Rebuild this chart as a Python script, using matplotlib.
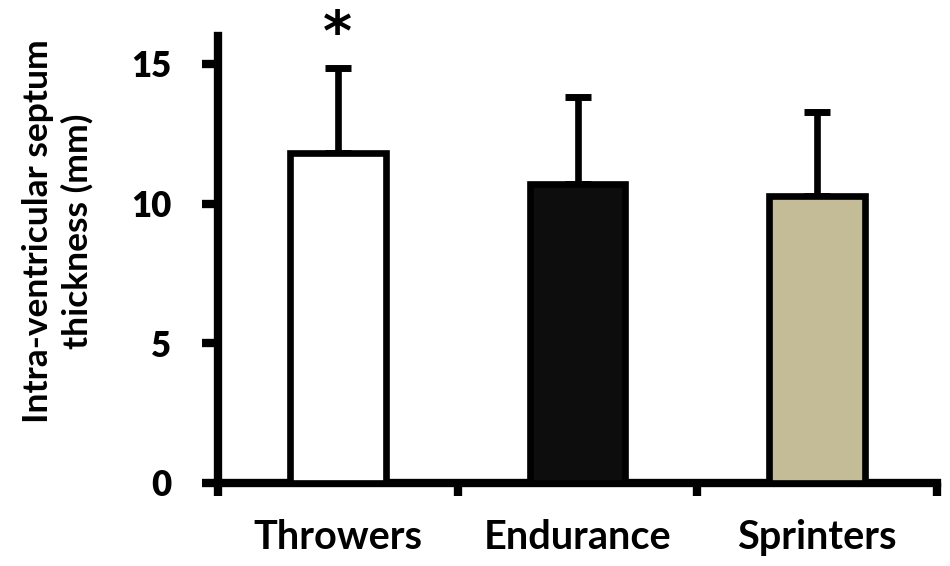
import matplotlib
matplotlib.use("Agg")
import matplotlib.pyplot as plt
import numpy as np

categories = ["Throwers", "Endurance", "Sprinters"]
means = [11.8, 10.7, 10.27]
errors = [3.07, 3.1, 3.02]
colors = ["#ffffff", "#0d0d0d", "#c4bb97"]
yticks = [0, 5, 10, 15]
significance = ["*", "", ""]

plt.rcParams['font.family'] = ['Lato', 'DejaVu Sans']
plt.rcParams['font.weight'] = 'bold'

fig = plt.figure(figsize=(9.5, 5.66), dpi=100)
ax = fig.add_axes([218/950, 83/566, 719/950, 447/566])

x = np.arange(len(categories))
ax.bar(x, means, width=0.4, color=colors, edgecolor="black", linewidth=4.8, zorder=3)
ax.errorbar(x, means, yerr=[np.zeros(len(errors)), errors], fmt="none", ecolor="black",
            elinewidth=4.8, capsize=9.5, capthick=5, zorder=2)

for xi, m, e, s in zip(x, means, errors, significance):
    if s:
        ax.annotate(s, xy=(xi, m + e), xytext=(0, 13), textcoords="offset points",
                    ha="center", va="baseline", fontsize=40, fontweight="bold",
                    family=["DejaVu Sans"], annotation_clip=False)

ax.set_xlim(-0.5, len(categories) - 0.5)
ax.set_ylim(0, 16)
ax.set_yticks(yticks)
ax.set_yticklabels([str(t) for t in yticks], fontsize=25, fontweight="heavy")
ax.set_xticks(np.arange(len(categories) + 1) - 0.5)
ax.set_xticklabels([])
ax.set_xticks(x, minor=True)
ax.set_xticklabels(categories, minor=True, fontsize=28.5, fontweight="bold")

ax.spines["top"].set_visible(False)
ax.spines["right"].set_visible(False)
for sp in ("left", "bottom"):
    ax.spines[sp].set_linewidth(6)
ax.tick_params(axis="y", direction="out", length=11.5, width=6, pad=22)
ax.tick_params(axis="x", which="major", direction="out", length=9, width=6)
ax.tick_params(axis="x", which="minor", length=0, pad=26)

fig.text(58/950, 1 - 231/566, "Intra-ventricular septum\nthickness (mm)", rotation=90,
         ha="center", va="center", multialignment="center", fontsize=25.5, fontweight="bold",
         linespacing=1.25)

fig.savefig("out.png", dpi=100)
